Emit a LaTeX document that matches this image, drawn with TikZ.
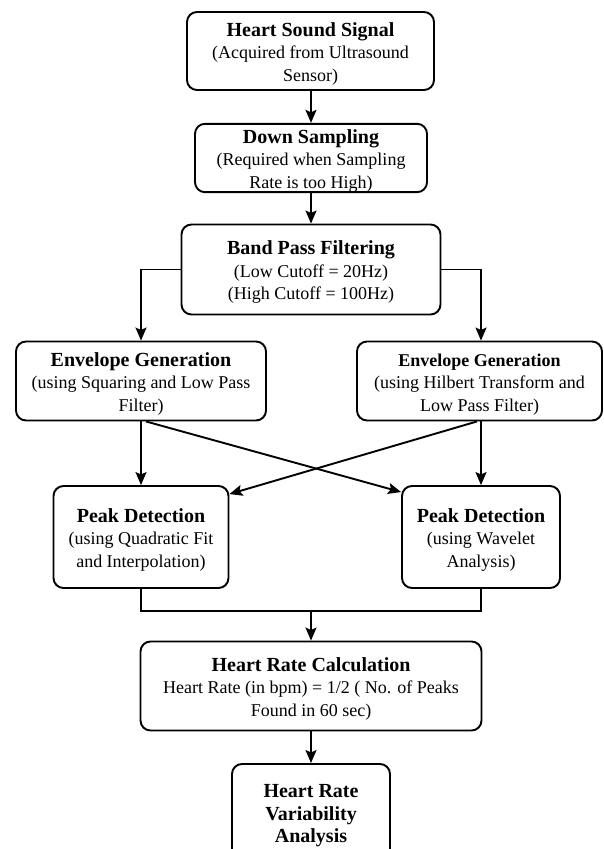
\documentclass[tikz,border=0pt]{standalone}
\usepackage{fontspec}
\setmainfont{Liberation Serif}
\usetikzlibrary{arrows.meta}
\newcommand\hdr[1]{{\fontsize{20}{22.5}\selectfont\bfseries #1}}
\newcommand\hdrs[1]{{\fontsize{18}{22.5}\selectfont\bfseries #1}}
\newcommand\lift{\rule{0pt}{19.5pt}}
\tikzset{
  box/.style={draw, line width=1.9pt, rounded corners=10pt, align=center,
    inner sep=0pt, font=\fontsize{18}{22.5}\selectfont},
  arr/.style={line width=1.9pt, -{Stealth[length=13pt,width=11pt,inset=2.5pt]}},
  ln/.style={line width=1.9pt}
}
\begin{document}
\begin{tikzpicture}[x=1pt,y=-1pt]
\useasboundingbox (0,0) rectangle (603,849);
\begin{scope}
\clip (0,0) rectangle (603,849);
\node[box, minimum width=247pt, minimum height=78pt] (b1) at (310.5,51)
  {\lift\hdr{Heart Sound Signal}\\(Acquired from Ultrasound\\Sensor)};
\node[box, minimum width=232pt, minimum height=68pt] (b2) at (311,158)
  {\lift\hdr{Down Sampling}\\(Required when Sampling\\Rate is too High)};
\node[box, minimum width=259pt, minimum height=90pt] (b3) at (311,269.5)
  {\lift\hdr{Band Pass Filtering}\\(Low Cutoff = 20Hz)\\(High Cutoff = 100Hz)};
\node[box, minimum width=250pt, minimum height=79pt] (b4) at (141,381)
  {\lift\hdr{Envelope Generation}\\(using Squaring and Low Pass\\Filter)};
\node[box, minimum width=245pt, minimum height=79pt] (b5) at (479.5,381)
  {\lift\hdrs{Envelope Generation}\\(using Hilbert Transform and\\Low Pass Filter)};
\node[box, minimum width=175pt, minimum height=102pt] (b6) at (141,537)
  {\lift\hdr{Peak Detection}\\(using Quadratic Fit\\and Interpolation)};
\node[box, minimum width=158pt, minimum height=102pt] (b7) at (481,537)
  {\lift\hdr{Peak Detection}\\(using Wavelet\\Analysis)};
\node[box, minimum width=341pt, minimum height=89pt] (b8) at (311,686)
  {\lift\hdr{Heart Rate Calculation}\\Heart Rate (in bpm) = 1/2 ( No. of Peaks\\Found in 60 sec)};
\node[box, minimum width=158pt, minimum height=104pt] (b9) at (311,816)
  {\hdr{Heart Rate}\\\hdr{Variability}\\\hdr{Analysis}};
\coordinate (m) at (311,611);

\draw[arr] (b1.south -| b2.north) -- (b2.north);
\draw[arr] (b2.south) -- (b2.south |- b3.north);
\draw[arr] (b3.west) -| (b4.north);
\draw[arr] (b3.east) -| (b7.north |- b5.north);
\draw[arr] (b4.south) -- (b6.north);
\draw[arr] (b7.north |- b5.south) -- (b7.north);
\draw[arr] ([xshift=5pt]b4.south) -- ([yshift=-7pt]b7.north west);
\draw[arr] ([xshift=-4pt]b7.north |- b5.south) -- ([yshift=-9pt]b6.north east);
\draw[ln] (b6.south) |- (m) -| (b7.south);
\draw[arr] (m) -- (b8.north);
\draw[arr] (b8.south) -- (b9.north);
\end{scope}
\end{tikzpicture}
\end{document}
